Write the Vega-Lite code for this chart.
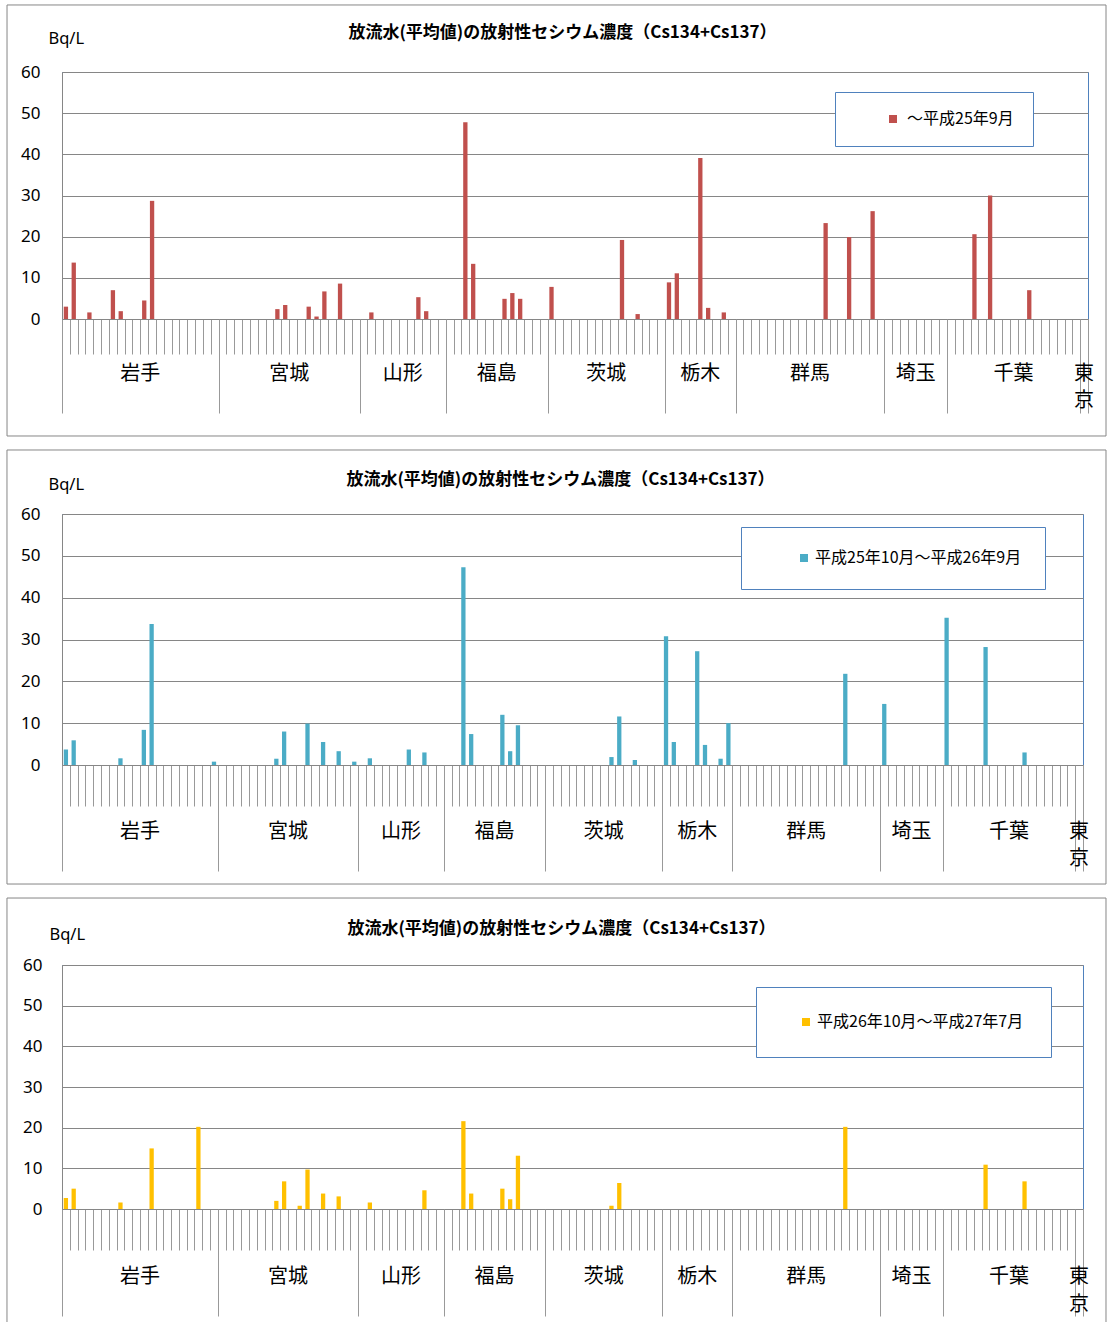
{
"$schema": "https://vega.github.io/schema/vega-lite/v6.json",
"padding": {"left": 5, "top": 3, "right": 0, "bottom": 0},
"background": "white",
"spacing": 11,
"columns": 1,
"config": {"view": {"stroke": "#4F81BD", "strokeWidth": 1}, "font": "Noto Sans CJK JP"},
"resolve": {"scale": {"color": "independent", "y": "independent", "x": "independent"}, "legend": {"color": "independent"}},
"datasets": {"stations": [
{"i":0,"pref":"岩手","a":3.0,"b":3.7,"c":2.7},{"i":1,"pref":"岩手","a":13.7,"b":5.9,"c":5.0},{"i":2,"pref":"岩手","a":0,"b":0,"c":0},{"i":3,"pref":"岩手","a":1.6,"b":0,"c":0},{"i":4,"pref":"岩手","a":0,"b":0,"c":0},{"i":5,"pref":"岩手","a":0,"b":0,"c":0},{"i":6,"pref":"岩手","a":7.0,"b":0,"c":0},{"i":7,"pref":"岩手","a":1.9,"b":1.6,"c":1.6},{"i":8,"pref":"岩手","a":0,"b":0,"c":0},{"i":9,"pref":"岩手","a":0,"b":0,"c":0},{"i":10,"pref":"岩手","a":4.5,"b":8.4,"c":0},{"i":11,"pref":"岩手","a":28.7,"b":33.7,"c":14.9},{"i":12,"pref":"岩手","a":0,"b":0,"c":0},{"i":13,"pref":"岩手","a":0,"b":0,"c":0},{"i":14,"pref":"岩手","a":0,"b":0,"c":0},{"i":15,"pref":"岩手","a":0,"b":0,"c":0},{"i":16,"pref":"岩手","a":0,"b":0,"c":0},{"i":17,"pref":"岩手","a":0,"b":0,"c":20.2},{"i":18,"pref":"岩手","a":0,"b":0,"c":0},{"i":19,"pref":"岩手","a":0,"b":0.8,"c":0},
{"i":20,"pref":"宮城","a":0,"b":0,"c":0},{"i":21,"pref":"宮城","a":0,"b":0,"c":0},{"i":22,"pref":"宮城","a":0,"b":0,"c":0},{"i":23,"pref":"宮城","a":0,"b":0,"c":0},{"i":24,"pref":"宮城","a":0,"b":0,"c":0},{"i":25,"pref":"宮城","a":0,"b":0,"c":0},{"i":26,"pref":"宮城","a":0,"b":0,"c":0},{"i":27,"pref":"宮城","a":2.4,"b":1.5,"c":2.0},{"i":28,"pref":"宮城","a":3.4,"b":8.0,"c":6.8},{"i":29,"pref":"宮城","a":0,"b":0,"c":0},{"i":30,"pref":"宮城","a":0,"b":0,"c":0.8},{"i":31,"pref":"宮城","a":3.0,"b":9.9,"c":9.7},{"i":32,"pref":"宮城","a":0.6,"b":0,"c":0},{"i":33,"pref":"宮城","a":6.7,"b":5.5,"c":3.8},{"i":34,"pref":"宮城","a":0,"b":0,"c":0},{"i":35,"pref":"宮城","a":8.6,"b":3.3,"c":3.1},{"i":36,"pref":"宮城","a":0,"b":0,"c":0},{"i":37,"pref":"宮城","a":0,"b":0.8,"c":0},
{"i":38,"pref":"山形","a":0,"b":0,"c":0},{"i":39,"pref":"山形","a":1.6,"b":1.6,"c":1.6},{"i":40,"pref":"山形","a":0,"b":0,"c":0},{"i":41,"pref":"山形","a":0,"b":0,"c":0},{"i":42,"pref":"山形","a":0,"b":0,"c":0},{"i":43,"pref":"山形","a":0,"b":0,"c":0},{"i":44,"pref":"山形","a":0,"b":3.7,"c":0},{"i":45,"pref":"山形","a":5.3,"b":0,"c":0},{"i":46,"pref":"山形","a":1.9,"b":3.0,"c":4.6},{"i":47,"pref":"山形","a":0,"b":0,"c":0},{"i":48,"pref":"山形","a":0,"b":0,"c":0},
{"i":49,"pref":"福島","a":0,"b":0,"c":0},{"i":50,"pref":"福島","a":0,"b":0,"c":0},{"i":51,"pref":"福島","a":47.8,"b":47.3,"c":21.6},{"i":52,"pref":"福島","a":13.4,"b":7.4,"c":3.8},{"i":53,"pref":"福島","a":0,"b":0,"c":0},{"i":54,"pref":"福島","a":0,"b":0,"c":0},{"i":55,"pref":"福島","a":0,"b":0,"c":0},{"i":56,"pref":"福島","a":4.9,"b":12.0,"c":5.0},{"i":57,"pref":"福島","a":6.3,"b":3.3,"c":2.4},{"i":58,"pref":"福島","a":4.9,"b":9.5,"c":13.1},{"i":59,"pref":"福島","a":0,"b":0,"c":0},{"i":60,"pref":"福島","a":0,"b":0,"c":0},{"i":61,"pref":"福島","a":0,"b":0,"c":0},
{"i":62,"pref":"茨城","a":7.8,"b":0,"c":0},{"i":63,"pref":"茨城","a":0,"b":0,"c":0},{"i":64,"pref":"茨城","a":0,"b":0,"c":0},{"i":65,"pref":"茨城","a":0,"b":0,"c":0},{"i":66,"pref":"茨城","a":0,"b":0,"c":0},{"i":67,"pref":"茨城","a":0,"b":0,"c":0},{"i":68,"pref":"茨城","a":0,"b":0,"c":0},{"i":69,"pref":"茨城","a":0,"b":0,"c":0},{"i":70,"pref":"茨城","a":0,"b":1.9,"c":0.8},{"i":71,"pref":"茨城","a":19.2,"b":11.6,"c":6.4},{"i":72,"pref":"茨城","a":0,"b":0,"c":0},{"i":73,"pref":"茨城","a":1.2,"b":1.2,"c":0},{"i":74,"pref":"茨城","a":0,"b":0,"c":0},{"i":75,"pref":"茨城","a":0,"b":0,"c":0},{"i":76,"pref":"茨城","a":0,"b":0,"c":0},
{"i":77,"pref":"栃木","a":8.9,"b":30.8,"c":0},{"i":78,"pref":"栃木","a":11.1,"b":5.5,"c":0},{"i":79,"pref":"栃木","a":0,"b":0,"c":0},{"i":80,"pref":"栃木","a":0,"b":0,"c":0},{"i":81,"pref":"栃木","a":39.1,"b":27.2,"c":0},{"i":82,"pref":"栃木","a":2.7,"b":4.8,"c":0},{"i":83,"pref":"栃木","a":0,"b":0,"c":0},{"i":84,"pref":"栃木","a":1.6,"b":1.5,"c":0},{"i":85,"pref":"栃木","a":0,"b":10.0,"c":0},
{"i":86,"pref":"群馬","a":0,"b":0,"c":0},{"i":87,"pref":"群馬","a":0,"b":0,"c":0},{"i":88,"pref":"群馬","a":0,"b":0,"c":0},{"i":89,"pref":"群馬","a":0,"b":0,"c":0},{"i":90,"pref":"群馬","a":0,"b":0,"c":0},{"i":91,"pref":"群馬","a":0,"b":0,"c":0},{"i":92,"pref":"群馬","a":0,"b":0,"c":0},{"i":93,"pref":"群馬","a":0,"b":0,"c":0},{"i":94,"pref":"群馬","a":0,"b":0,"c":0},{"i":95,"pref":"群馬","a":0,"b":0,"c":0},{"i":96,"pref":"群馬","a":0,"b":0,"c":0},{"i":97,"pref":"群馬","a":23.3,"b":0,"c":0},{"i":98,"pref":"群馬","a":0,"b":0,"c":0},{"i":99,"pref":"群馬","a":0,"b":0,"c":0},{"i":100,"pref":"群馬","a":19.9,"b":21.8,"c":20.2},{"i":101,"pref":"群馬","a":0,"b":0,"c":0},{"i":102,"pref":"群馬","a":0,"b":0,"c":0},{"i":103,"pref":"群馬","a":26.2,"b":0,"c":0},{"i":104,"pref":"群馬","a":0,"b":0,"c":0},
{"i":105,"pref":"埼玉","a":0,"b":14.6,"c":0},{"i":106,"pref":"埼玉","a":0,"b":0,"c":0},{"i":107,"pref":"埼玉","a":0,"b":0,"c":0},{"i":108,"pref":"埼玉","a":0,"b":0,"c":0},{"i":109,"pref":"埼玉","a":0,"b":0,"c":0},{"i":110,"pref":"埼玉","a":0,"b":0,"c":0},{"i":111,"pref":"埼玉","a":0,"b":0,"c":0},{"i":112,"pref":"埼玉","a":0,"b":0,"c":0},
{"i":113,"pref":"千葉","a":0,"b":35.2,"c":0},{"i":114,"pref":"千葉","a":0,"b":0,"c":0},{"i":115,"pref":"千葉","a":0,"b":0,"c":0},{"i":116,"pref":"千葉","a":20.6,"b":0,"c":0},{"i":117,"pref":"千葉","a":0,"b":0,"c":0},{"i":118,"pref":"千葉","a":30.0,"b":28.2,"c":10.9},{"i":119,"pref":"千葉","a":0,"b":0,"c":0},{"i":120,"pref":"千葉","a":0,"b":0,"c":0},{"i":121,"pref":"千葉","a":0,"b":0,"c":0},{"i":122,"pref":"千葉","a":0,"b":0,"c":0},{"i":123,"pref":"千葉","a":7.0,"b":3.0,"c":6.8},{"i":124,"pref":"千葉","a":0,"b":0,"c":0},{"i":125,"pref":"千葉","a":0,"b":0,"c":0},{"i":126,"pref":"千葉","a":0,"b":0,"c":0},{"i":127,"pref":"千葉","a":0,"b":0,"c":0},{"i":128,"pref":"千葉","a":0,"b":0,"c":0},{"i":129,"pref":"千葉","a":0,"b":0,"c":0},
{"i":130,"pref":"東京","a":0,"b":0,"c":0}
]},
"concat": [
{
 "width": 1026, "height": 247,
 "title": {"text": "放流水(平均値)の放射性セシウム濃度（Cs134+Cs137）", "font": "Noto Sans CJK JP", "fontSize": 17, "fontWeight": "bold", "color": "#000000", "anchor": "middle", "baseline": "bottom", "offset": -34.5, "dy": 20, "dx": -12.5},
 "data": {"name": "stations"},
 "resolve": {"scale": {"x": "independent"}, "axis": {"x": "independent", "y": "independent"}},
 "layer": [
  {"mark": {"type": "bar", "width": {"band": 0.55}},
   "encoding": {
    "x": {"field": "i", "type": "ordinal", "scale": {"paddingInner": 0, "paddingOuter": 0},
          "axis": {"orient": "bottom", "tickBand": "extent", "labels": false, "tickSize": 35, "tickColor": "#999999", "domain": true, "domainColor": "#868686", "grid": false, "title": null}},
    "y": {"field": "a", "type": "quantitative", "scale": {"domain": [0, 60], "nice": false, "zero": false},
          "axis": {"orient": "left", "values": [0,10,20,30,40,50,60], "grid": true, "gridColor": "#868686", "domain": true, "domainColor": "#868686", "ticks": false, "labelFont": "Noto Sans", "labelFontSize": 17, "labelColor": "#000000", "labelPadding": 22, "title": "Bq/L", "titleAngle": 0, "titleX": -14, "titleY": -34, "titleAlign": "left", "titleBaseline": "middle", "titleFont": "Noto Sans", "titleFontSize": 16.5, "titleFontWeight": "normal", "titleColor": "#000000"}},
    "color": {"datum": "～平成25年9月", "type": "nominal", "scale": {"range": ["#C0504D"]},
              "legend": {"title": null, "orient": "none", "legendX": 773, "legendY": 20, "symbolType": "square", "symbolSize": 64, "symbolStrokeWidth": 0, "labelFont": "Noto Sans CJK JP", "labelFontSize": 16, "labelLimit": 400, "labelColor": "#000000", "padding": 19, "symbolOffset": 31, "labelOffset": 6, "strokeColor": "#4F81BD", "fillColor": "#FFFFFF"}}}},
  {"data": {"values": [{}]},
   "mark": {"type": "rect", "fill": null, "stroke": "#868686", "strokeWidth": 1},
   "encoding": {
    "x": {"datum": -7.52, "type": "quantitative", "scale": {"domain": [-0.5, 130.5], "nice": false, "zero": false}, "axis": null},
    "x2": {"datum": 132.80},
    "y": {"datum": 76.28, "type": "quantitative", "scale": {"domain": [0, 60], "nice": false, "zero": false}, "axis": null},
    "y2": {"datum": -28.42}}},
  {"transform": [{"filter": "datum.pref !== '東京'"}],
   "mark": {"type": "text", "font": "Noto Sans CJK JP", "fontSize": 20, "color": "#000000", "baseline": "middle", "align": "center", "dy": 55},
   "encoding": {
    "x": {"field": "i", "aggregate": "mean", "type": "quantitative", "scale": {"domain": [-0.5, 130.5], "nice": false, "zero": false},
          "axis": {"orient": "bottom", "values": [-0.5,19.5,37.5,48.5,61.5,76.5,85.5,104.5,112.5,129.5,130.5], "tickSize": 94, "tickColor": "#999999", "labels": false, "domain": false, "grid": false, "title": null}},
    "y": {"datum": 0, "type": "quantitative", "scale": {"domain": [0, 60], "nice": false, "zero": false}, "axis": null},
    "text": {"field": "pref", "type": "nominal"}}},
  {"transform": [{"filter": "datum.pref === '東京'"}],
   "mark": {"type": "text", "font": "Noto Sans CJK JP", "fontSize": 20, "color": "#000000", "baseline": "middle", "align": "center", "lineHeight": 27, "dy": 55},
   "encoding": {
    "x": {"field": "i", "type": "quantitative", "scale": {"domain": [-0.5, 130.5], "nice": false, "zero": false}, "axis": null},
    "y": {"datum": 0, "type": "quantitative", "scale": {"domain": [0, 60], "nice": false, "zero": false}, "axis": null},
    "text": {"value": ["東", "京"]}}}
 ]
},
{
 "width": 1021, "height": 251,
 "title": {"text": "放流水(平均値)の放射性セシウム濃度（Cs134+Cs137）", "font": "Noto Sans CJK JP", "fontSize": 17, "fontWeight": "bold", "color": "#000000", "anchor": "middle", "baseline": "bottom", "offset": -35.5, "dy": 21, "dx": -12},
 "data": {"name": "stations"},
 "resolve": {"scale": {"x": "independent"}, "axis": {"x": "independent", "y": "independent"}},
 "layer": [
  {"mark": {"type": "bar", "width": {"band": 0.55}},
   "encoding": {
    "x": {"field": "i", "type": "ordinal", "scale": {"paddingInner": 0, "paddingOuter": 0},
          "axis": {"orient": "bottom", "tickBand": "extent", "labels": false, "tickSize": 41, "tickColor": "#999999", "domain": true, "domainColor": "#868686", "grid": false, "title": null}},
    "y": {"field": "b", "type": "quantitative", "scale": {"domain": [0, 60], "nice": false, "zero": false},
          "axis": {"orient": "left", "values": [0,10,20,30,40,50,60], "grid": true, "gridColor": "#868686", "domain": true, "domainColor": "#868686", "ticks": false, "labelFont": "Noto Sans", "labelFontSize": 17, "labelColor": "#000000", "labelPadding": 22, "title": "Bq/L", "titleAngle": 0, "titleX": -14, "titleY": -30, "titleAlign": "left", "titleBaseline": "middle", "titleFont": "Noto Sans", "titleFontSize": 16.5, "titleFontWeight": "normal", "titleColor": "#000000"}},
    "color": {"datum": "平成25年10月～平成26年9月", "type": "nominal", "scale": {"range": ["#4BACC6"]},
              "legend": {"title": null, "orient": "none", "legendX": 679, "legendY": 13, "symbolType": "square", "symbolSize": 64, "symbolStrokeWidth": 0, "labelFont": "Noto Sans CJK JP", "labelFontSize": 16, "labelLimit": 400, "labelColor": "#000000", "padding": 23, "symbolOffset": 32, "labelOffset": 3, "strokeColor": "#4F81BD", "fillColor": "#FFFFFF"}}}},
  {"data": {"values": [{}]},
   "mark": {"type": "rect", "fill": null, "stroke": "#868686", "strokeWidth": 1},
   "encoding": {
    "x": {"datum": -7.56, "type": "quantitative", "scale": {"domain": [-0.5, 130.5], "nice": false, "zero": false}, "axis": null},
    "x2": {"datum": 133.45},
    "y": {"datum": 75.30, "type": "quantitative", "scale": {"domain": [0, 60], "nice": false, "zero": false}, "axis": null},
    "y2": {"datum": -28.45}}},
  {"transform": [{"filter": "datum.pref !== '東京'"}],
   "mark": {"type": "text", "font": "Noto Sans CJK JP", "fontSize": 20, "color": "#000000", "baseline": "middle", "align": "center", "dy": 67},
   "encoding": {
    "x": {"field": "i", "aggregate": "mean", "type": "quantitative", "scale": {"domain": [-0.5, 130.5], "nice": false, "zero": false},
          "axis": {"orient": "bottom", "values": [-0.5,19.5,37.5,48.5,61.5,76.5,85.5,104.5,112.5,129.5,130.5], "tickSize": 106, "tickColor": "#999999", "labels": false, "domain": false, "grid": false, "title": null}},
    "y": {"datum": 0, "type": "quantitative", "scale": {"domain": [0, 60], "nice": false, "zero": false}, "axis": null},
    "text": {"field": "pref", "type": "nominal"}}},
  {"transform": [{"filter": "datum.pref === '東京'"}],
   "mark": {"type": "text", "font": "Noto Sans CJK JP", "fontSize": 20, "color": "#000000", "baseline": "middle", "align": "center", "lineHeight": 27, "dy": 67},
   "encoding": {
    "x": {"field": "i", "type": "quantitative", "scale": {"domain": [-0.5, 130.5], "nice": false, "zero": false}, "axis": null},
    "y": {"datum": 0, "type": "quantitative", "scale": {"domain": [0, 60], "nice": false, "zero": false}, "axis": null},
    "text": {"value": ["東", "京"]}}}
 ]
},
{
 "width": 1021, "height": 244,
 "title": {"text": "放流水(平均値)の放射性セシウム濃度（Cs134+Cs137）", "font": "Noto Sans CJK JP", "fontSize": 17, "fontWeight": "bold", "color": "#000000", "anchor": "middle", "baseline": "bottom", "offset": -36.5, "dy": 21, "dx": -11},
 "data": {"name": "stations"},
 "resolve": {"scale": {"x": "independent"}, "axis": {"x": "independent", "y": "independent"}},
 "layer": [
  {"mark": {"type": "bar", "width": {"band": 0.55}},
   "encoding": {
    "x": {"field": "i", "type": "ordinal", "scale": {"paddingInner": 0, "paddingOuter": 0},
          "axis": {"orient": "bottom", "tickBand": "extent", "labels": false, "tickSize": 41, "tickColor": "#999999", "domain": true, "domainColor": "#868686", "grid": false, "title": null}},
    "y": {"field": "c", "type": "quantitative", "scale": {"domain": [0, 60], "nice": false, "zero": false},
          "axis": {"orient": "left", "values": [0,10,20,30,40,50,60], "grid": true, "gridColor": "#868686", "domain": true, "domainColor": "#868686", "ticks": false, "labelFont": "Noto Sans", "labelFontSize": 17, "labelColor": "#000000", "labelPadding": 20, "title": "Bq/L", "titleAngle": 0, "titleX": -13, "titleY": -31, "titleAlign": "left", "titleBaseline": "middle", "titleFont": "Noto Sans", "titleFontSize": 16.5, "titleFontWeight": "normal", "titleColor": "#000000"}},
    "color": {"datum": "平成26年10月～平成27年7月", "type": "nominal", "scale": {"range": ["#FFC000"]},
              "legend": {"title": null, "orient": "none", "legendX": 694, "legendY": 22, "symbolType": "square", "symbolSize": 64, "symbolStrokeWidth": 0, "labelFont": "Noto Sans CJK JP", "labelFontSize": 16, "labelLimit": 400, "labelColor": "#000000", "padding": 27, "symbolOffset": 15, "labelOffset": 3, "strokeColor": "#4F81BD", "fillColor": "#FFFFFF"}}}},
  {"data": {"values": [{}]},
   "mark": {"type": "rect", "fill": null, "stroke": "#868686", "strokeWidth": 1},
   "encoding": {
    "x": {"datum": -7.56, "type": "quantitative", "scale": {"domain": [-0.5, 130.5], "nice": false, "zero": false}, "axis": null},
    "x2": {"datum": 133.45},
    "y": {"datum": 76.47, "type": "quantitative", "scale": {"domain": [0, 60], "nice": false, "zero": false}, "axis": null},
    "y2": {"datum": -29.75}}},
  {"transform": [{"filter": "datum.pref !== '東京'"}],
   "mark": {"type": "text", "font": "Noto Sans CJK JP", "fontSize": 20, "color": "#000000", "baseline": "middle", "align": "center", "dy": 68},
   "encoding": {
    "x": {"field": "i", "aggregate": "mean", "type": "quantitative", "scale": {"domain": [-0.5, 130.5], "nice": false, "zero": false},
          "axis": {"orient": "bottom", "values": [-0.5,19.5,37.5,48.5,61.5,76.5,85.5,104.5,112.5,129.5,130.5], "tickSize": 107, "tickColor": "#999999", "labels": false, "domain": false, "grid": false, "title": null}},
    "y": {"datum": 0, "type": "quantitative", "scale": {"domain": [0, 60], "nice": false, "zero": false}, "axis": null},
    "text": {"field": "pref", "type": "nominal"}}},
  {"transform": [{"filter": "datum.pref === '東京'"}],
   "mark": {"type": "text", "font": "Noto Sans CJK JP", "fontSize": 20, "color": "#000000", "baseline": "middle", "align": "center", "lineHeight": 28, "dy": 68},
   "encoding": {
    "x": {"field": "i", "type": "quantitative", "scale": {"domain": [-0.5, 130.5], "nice": false, "zero": false}, "axis": null},
    "y": {"datum": 0, "type": "quantitative", "scale": {"domain": [0, 60], "nice": false, "zero": false}, "axis": null},
    "text": {"value": ["東", "京"]}}}
 ]
}
]
}
